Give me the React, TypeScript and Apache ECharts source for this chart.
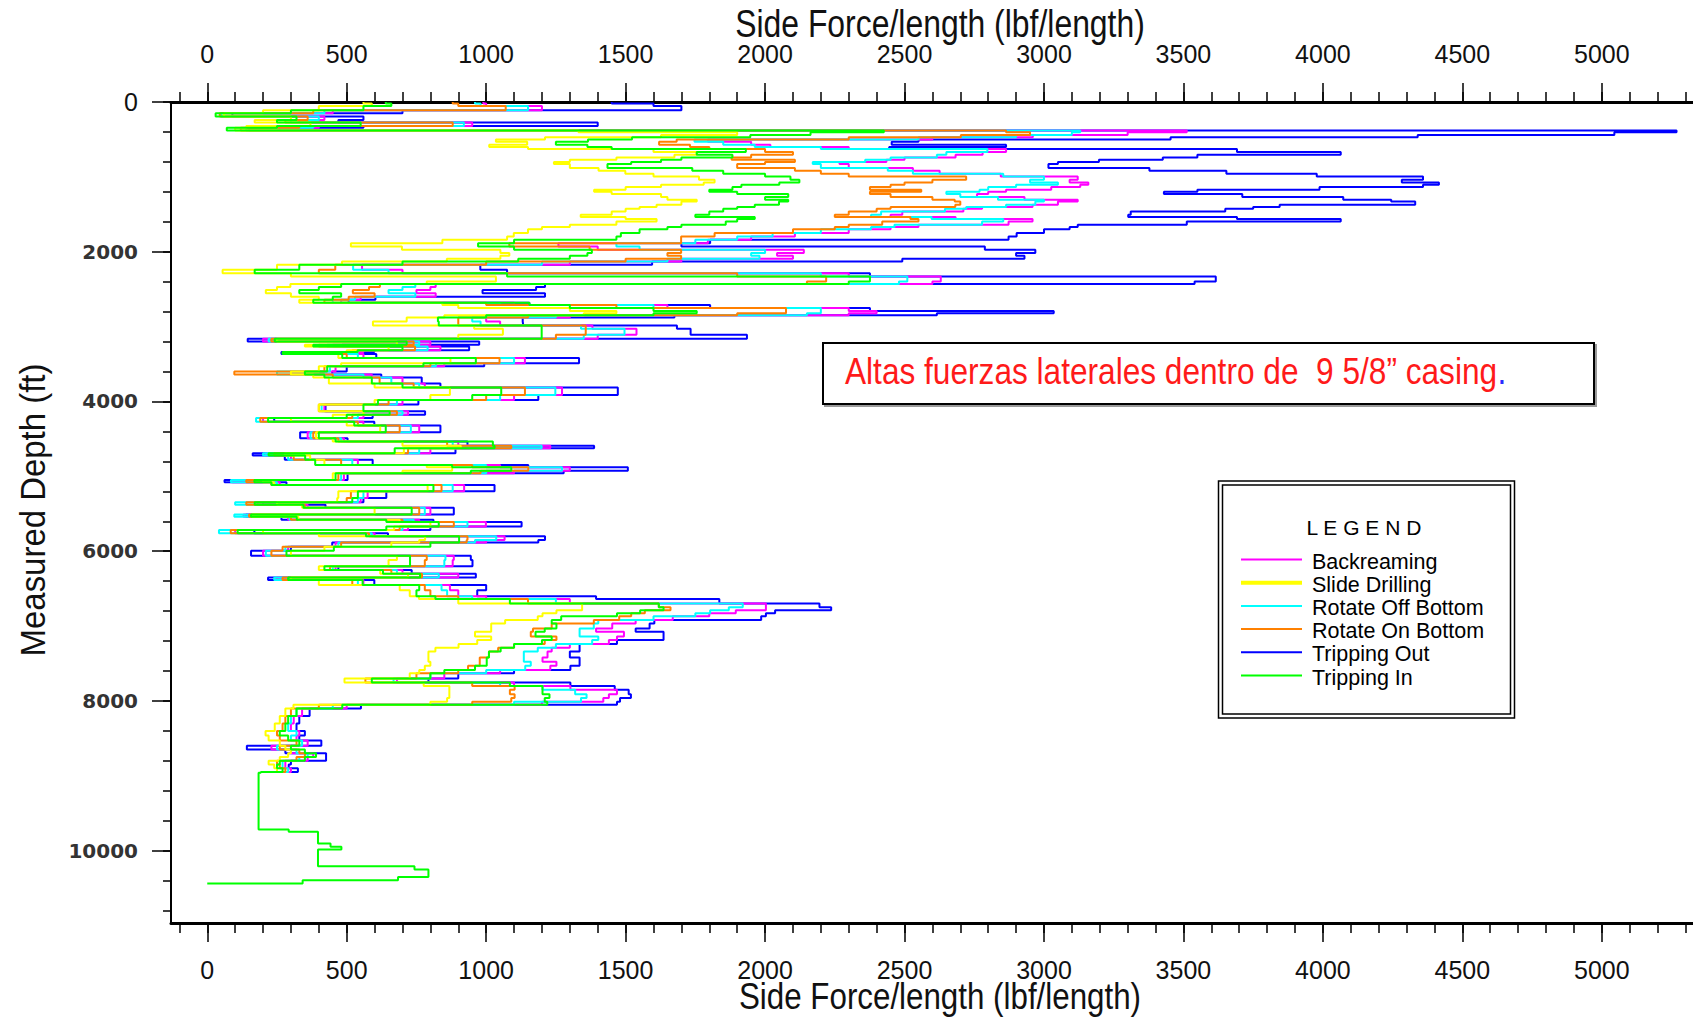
import React, { useEffect, useRef } from "react";
import * as echarts from "echarts";

// ---------- axis ranges & ticks ----------
const XMIN = -130;
const XMAX = 5327;
const YMAX = 10966;
const xMajorTicks = [0, 500, 1000, 1500, 2000, 2500, 3000, 3500, 4000, 4500, 5000];
const xMinorTicks = Array.from({ length: 55 }, (_, i) => -100 + i * 100);
const yMajorTicks = [0, 2000, 4000, 6000, 8000, 10000];
const yMinorTicks = Array.from({ length: 28 }, (_, i) => i * 400);

const xTitle = "Side Force/length (lbf/length)";
const yTitle = "Measured Depth (ft)";
const noteText = "Altas fuerzas laterales dentro de  9 5/8\u201d casing";

// ---------- data: measured depth stations (ft) ----------
const depthFt = [
  0, 20, 55, 110, 150, 195, 240, 275, 320, 345,
  380, 405, 440, 470, 500, 530, 570, 600, 628, 668,
  704, 740, 771, 800, 829, 882, 918, 958, 994, 1038,
  1074, 1105, 1136, 1172, 1200, 1230, 1270, 1306, 1328, 1372,
  1404, 1426, 1462, 1506, 1537, 1564, 1595, 1640, 1670, 1700,
  1751, 1796, 1840, 1885, 1929, 1974, 2018, 2054, 2094, 2130,
  2175, 2241, 2286, 2330, 2397, 2430, 2470, 2510, 2553, 2600,
  2642, 2680, 2710, 2750, 2790, 2820, 2850, 2880, 2932, 2985,
  3030, 3110, 3163, 3200, 3244, 3265, 3315, 3340, 3365, 3420,
  3490, 3530, 3600, 3640, 3680, 3760, 3815, 3912, 3980, 4040,
  4130, 4179, 4220, 4270, 4320, 4410, 4490, 4536, 4590, 4625,
  4690, 4720, 4780, 4847, 4880, 4925, 4960, 5050, 5080, 5115,
  5200, 5290, 5345, 5380, 5420, 5510, 5540, 5580, 5610, 5670,
  5716, 5761, 5800, 5850, 5885, 5940, 5995, 6060, 6117, 6200,
  6251, 6300, 6350, 6385, 6450, 6520, 6600, 6640, 6700, 6750,
  6790, 6830, 6870, 6920, 6964, 7031, 7075, 7140, 7187, 7240,
  7290, 7340, 7420, 7476, 7530, 7587, 7630, 7700, 7755, 7800,
  7850, 7910, 7960, 8011, 8050, 8100, 8200, 8300, 8400, 8460,
  8530, 8600, 8650, 8700, 8750, 8800, 8850, 8900, 8950,
];

// side force / length (lbf/length) per series at the stations above
const trippingOut = [
  1450, 1600, 1700, 700, 90, 560, 470, 1400, 560, 260,
  5268, 5045, 4340, 3454, 2550, 2454, 2864, 2445, 3692, 4064,
  3550, 3426, 3197, 3050, 3016, 3378, 3654, 3978, 4359, 4283,
  4416, 4359, 3988, 3550, 3430, 3711, 4073, 4245, 4331, 3845,
  3750, 3650, 3311, 3302, 3692, 4064, 3512, 3121, 3092, 3000,
  2902, 2873, 1803, 1700, 2788, 2969, 2900, 2930, 2492, 1595,
  979, 1075, 2376, 3616, 3540, 1211, 1179, 987, 1211, 603,
  507, 1155, 1803, 2376, 3035, 2616, 1675, 1131, 1133, 1684,
  1733, 1935, 145, 975, 484, 939, 599, 266, 606, 1333,
  993, 500, 448, 624, 769, 836, 1472, 1187, 757, 424,
  781, 593, 240, 599, 836, 333, 503, 933, 1387, 890,
  163, 278, 593, 1151, 1508, 1278, 503, 62, 284, 1030,
  642, 560, 200, 424, 884, 139, 266, 811, 1127, 800,
  169, 648, 1211, 1187, 448, 300, 157, 945, 951, 470,
  733, 963, 218, 599, 1000, 968, 1394, 1836, 2195, 2237,
  2036, 2003, 1986, 1603, 1586, 1536, 1636, 1636, 1469, 1335,
  1335, 1300, 1335, 1335, 1302, 1100, 900, 793, 1302, 1461,
  1511, 1519, 1480, 1469, 551, 367, 330, 320, 350, 330,
  409, 142, 280, 426, 426, 300, 292, 325, 300,
];

const backreaming = [
  990, 1000, 1200, 450, 60, 420, 330, 950, 400, 150,
  3512, 3300, 2960, 2600, 1795, 1950, 2019, 2300, 2864, 2780,
  2683, 2500, 2435, 2267, 2300, 2530, 2626, 2845, 3121, 3092,
  3159, 3130, 3026, 2864, 2800, 2760, 2930, 3121, 3050, 2959,
  2778, 2711, 2492, 2450, 2683, 2959, 2873, 2550, 2450, 2300,
  2107, 1950, 1795, 1259, 1400, 2139, 2043, 2100, 1700, 1300,
  555, 700, 2300, 2630, 2600, 819, 800, 750, 819, 550,
  480, 1100, 1650, 2300, 2400, 2300, 1300, 1000, 1050, 1381,
  1539, 1400, 200, 800, 450, 836, 560, 300, 560, 1139,
  850, 460, 300, 590, 700, 780, 1272, 1100, 700, 420,
  720, 560, 200, 560, 760, 360, 490, 900, 1230, 800,
  210, 300, 540, 1050, 1300, 1100, 490, 90, 260, 921,
  575, 550, 180, 360, 800, 130, 290, 760, 999, 720,
  100, 600, 1066, 1000, 460, 290, 200, 884, 880, 460,
  700, 900, 250, 560, 870, 900, 1000, 1300, 2003, 2003,
  1895, 1800, 1669, 1536, 1452, 1394, 1494, 1469, 1440, 1300,
  1235, 1220, 1202, 1252, 1230, 1050, 850, 680, 1100, 1302,
  1469, 1440, 1420, 1200, 500, 340, 310, 300, 330, 320,
  360, 230, 300, 380, 360, 280, 280, 300, 280,
];

const rotateOffBottom = [
  960, 980, 1150, 420, 50, 400, 300, 920, 380, 140,
  3130, 3100, 2900, 2550, 1747, 1850, 1963, 2200, 2797, 2650,
  2616, 2450, 2359, 2171, 2200, 2440, 2530, 2854, 3000, 2950,
  3050, 2900, 2800, 2769, 2650, 2700, 2835, 3000, 2969, 2864,
  2721, 2645, 2416, 2380, 2597, 2854, 2778, 2464, 2380, 2200,
  2027, 1900, 1750, 1467, 1550, 2000, 1950, 1980, 1650, 1200,
  523, 650, 2200, 2510, 2480, 746, 700, 650, 746, 530,
  450, 1050, 1600, 2200, 2200, 2150, 1250, 950, 980, 1340,
  1496, 1350, 220, 760, 430, 790, 540, 290, 540, 1100,
  820, 440, 250, 560, 660, 760, 1248, 1050, 680, 410,
  700, 540, 175, 540, 730, 370, 480, 880, 1199, 760,
  200, 290, 520, 1000, 1272, 1000, 480, 85, 250, 880,
  560, 540, 100, 345, 780, 97, 295, 740, 933, 700,
  42, 590, 1036, 960, 470, 280, 210, 854, 850, 450,
  680, 830, 240, 540, 840, 860, 950, 1250, 1920, 1870,
  1803, 1750, 1600, 1402, 1386, 1335, 1335, 1402, 1380, 1250,
  1185, 1135, 1135, 1160, 1140, 1000, 800, 668, 1050, 1202,
  1319, 1360, 1340, 1100, 450, 320, 300, 290, 320, 300,
  340, 250, 320, 360, 330, 270, 270, 290, 270,
];

const rotateOnBottom = [
  880, 900, 1070, 380, 45, 360, 280, 880, 330, 120,
  2864, 2950, 2702, 2300, 1683, 1620, 1731, 1800, 2000, 2100,
  1950, 1880, 2107, 2000, 1900, 2107, 2200, 2300, 2721, 2600,
  2500, 2450, 2376, 2560, 2376, 2450, 2600, 2680, 2700, 2682,
  2450, 2400, 2300, 2250, 2521, 2550, 2420, 2300, 2250, 2100,
  1819, 1699, 1699, 1083, 1371, 1699, 1650, 1699, 1500, 1000,
  459, 400, 1900, 2219, 2150, 619, 580, 522, 600, 507,
  420, 1000, 1467, 2075, 2075, 1900, 1150, 900, 900, 1357,
  1357, 1250, 230, 740, 400, 745, 520, 280, 500, 1048,
  800, 420, 97, 450, 618, 740, 1139, 1000, 650, 400,
  680, 520, 190, 540, 690, 380, 470, 860, 1090, 720,
  240, 310, 480, 950, 1151, 980, 470, 140, 230, 840,
  515, 500, 140, 350, 760, 150, 300, 700, 884, 690,
  84, 580, 933, 930, 480, 270, 230, 787, 780, 440,
  660, 770, 270, 520, 780, 800, 900, 1150, 1619, 1661,
  1569, 1520, 1477, 1386, 1235, 1168, 1160, 1252, 1210, 1100,
  1043, 1010, 977, 977, 935, 900, 750, 567, 950, 1102,
  1085, 1102, 1090, 950, 400, 300, 280, 270, 250, 260,
  320, 260, 330, 350, 320, 250, 260, 280, 250,
];

const trippingIn = [
  640, 660, 560, 300, 30, 320, 250, 550, 250, 70,
  2426, 2163, 1947, 1523, 1365, 1250, 1363, 1450, 1931, 1755,
  1883, 1700, 1627, 1520, 1435, 1739, 1850, 2000, 2091, 2123,
  2051, 1915, 1883, 1800, 1900, 2083, 2000, 2083, 2050, 1963,
  1900, 1850, 1800, 1750, 1963, 1900, 1859, 1700, 1650, 1550,
  1483, 1467, 1100, 971, 1100, 1379, 1363, 1300, 1115, 700,
  330, 170, 1075, 2376, 2300, 480, 400, 330, 480, 450,
  380, 1155, 1300, 1600, 1755, 1600, 1000, 827, 830, 1199,
  1199, 1199, 242, 715, 380, 700, 539, 270, 484, 963,
  775, 430, 350, 420, 590, 700, 1054, 950, 612, 560,
  654, 500, 218, 527, 640, 400, 460, 1024, 1030, 672,
  220, 351, 387, 878, 1090, 945, 460, 169, 230, 811,
  540, 520, 170, 345, 733, 157, 321, 642, 830, 642,
  109, 569, 903, 903, 800, 454, 284, 727, 727, 420,
  630, 763, 290, 557, 760, 750, 818, 1085, 1619, 1636,
  1552, 1469, 1269, 1235, 1252, 1210, 1177, 1235, 1200, 1100,
  1052, 1010, 1002, 1002, 960, 850, 800, 590, 1085, 1202,
  1202, 1227, 1210, 1219, 484, 320, 290, 280, 260, 290,
  330, 300, 350, 390, 350, 260, 250, 270, 192,
];

const slideDrilling = [
  560, 590, 400, 200, 60, 300, 170, 370, 140, 100,
  1331, 1900, 1627, 1211, 1035, 1147, 1011, 1150, 1600, 1755,
  1675, 1467, 1300, 1243, 1300, 1403, 1499, 1600, 1763, 1819,
  1780, 1627, 1500, 1387, 1450, 1627, 1650, 1755, 1700, 1611,
  1550, 1500, 1450, 1339, 1500, 1611, 1467, 1300, 1200, 1150,
  1099, 1075, 843, 515, 698, 1051, 1083, 1051, 859, 483,
  250, 55, 300, 1035, 787, 298, 250, 210, 300, 400,
  330, 843, 900, 1300, 1467, 1350, 850, 715, 594, 957,
  1060, 900, 250, 680, 350, 650, 500, 300, 470, 872,
  480, 400, 300, 380, 436, 600, 870, 800, 600, 400,
  560, 450, 300, 500, 620, 390, 450, 700, 909, 705,
  278, 369, 420, 787, 878, 700, 450, 200, 240, 790,
  470, 466, 250, 340, 600, 160, 327, 690, 800, 670,
  200, 400, 781, 760, 660, 420, 300, 680, 650, 400,
  620, 720, 300, 400, 690, 726, 759, 900, 1344, 1344,
  1252, 1202, 1185, 1068, 1018, 1018, 960, 1018, 968, 901,
  818, 793, 793, 800, 780, 760, 726, 492, 776, 868,
  868, 868, 860, 800, 309, 280, 260, 242, 209, 220,
  260, 280, 300, 290, 260, 220, 240, 250, 230,
];

// Tripping In continues alone below the other operations
const trippingInDeepDepth = [8960, 9717, 9748, 9904, 9949, 9984, 10207, 10252, 10350, 10394, 10439];
const trippingInDeepForce = [184, 292, 397, 442, 481, 397, 743, 793, 684, 342, 0];

// legend order as in the reference
const legendNames = ["Backreaming", "Slide Drilling", "Rotate Off Bottom", "Rotate On Bottom", "Tripping Out", "Tripping In"];
const legendColors = ["#ff00ff", "#ffff00", "#00ffff", "#ff8000", "#0000ff", "#00ff00"];
const legendLineWidths = [2, 4, 2, 2, 2, 2];

const SANS = "'Liberation Sans', Arial, sans-serif";

function toPairs(forces: number[]) {
  return forces.map((f, i) => [f, depthFt[i]]);
}

export default function App() {
  const ref = useRef<HTMLDivElement>(null);

  useEffect(() => {
    if (!ref.current) return;
    const chart = echarts.init(ref.current, null, { renderer: "svg" });

    const colorOf = (name: string) => legendColors[legendNames.indexOf(name)];

    const drawOrder: [string, number[][]][] = [
      ["Tripping Out", toPairs(trippingOut)],
      ["Backreaming", toPairs(backreaming)],
      ["Rotate Off Bottom", toPairs(rotateOffBottom)],
      ["Rotate On Bottom", toPairs(rotateOnBottom)],
      ["Slide Drilling", toPairs(slideDrilling)],
      [
        "Tripping In",
        toPairs(trippingIn).concat(trippingInDeepDepth.map((d, i) => [trippingInDeepForce[i], d])),
      ],
    ];

    const series = drawOrder.map(([name, data]) => ({
      name,
      type: "line",
      xAxisIndex: 0,
      yAxisIndex: 0,
      step: "start",
      symbol: "none",
      showSymbol: false,
      clip: true,
      data,
      lineStyle: { color: colorOf(name), width: 2 },
      itemStyle: { color: colorOf(name) },
      emphasis: { disabled: true },
    }));

    const axisLineStyle = (w: number) => ({ show: true, onZero: false, lineStyle: { color: "#000", width: w } });

    const xMajor = (position: "top" | "bottom", margin: number) => ({
      type: "value",
      position,
      min: XMIN,
      max: XMAX,
      minInterval: 500,
      maxInterval: 500,
      splitLine: { show: false },
      axisLine: axisLineStyle(3),
      axisTick: { show: true, length: 19, customValues: xMajorTicks, lineStyle: { color: "#000", width: 1.5 } },
      axisLabel: {
        show: true,
        customValues: xMajorTicks,
        margin,
        fontFamily: SANS,
        fontSize: 25,
        color: "#111",
        formatter: (v: number) => (Math.round(v) % 500 === 0 ? String(Math.round(v)) : ""),
      },
    });

    const xMinor = (position: "top" | "bottom") => ({
      type: "value",
      position,
      min: XMIN,
      max: XMAX,
      minInterval: 100,
      maxInterval: 100,
      splitLine: { show: false },
      axisLine: { show: false, onZero: false },
      axisTick: { show: true, length: 10, customValues: xMinorTicks, lineStyle: { color: "#000", width: 1.5 } },
      axisLabel: { show: false },
    });

    const titleText = (x: number, y: number, text: string, size: number, sx: number, rot = 0) => ({
      type: "text",
      x,
      y,
      rotation: rot,
      scaleX: sx,
      z: 60,
      style: {
        x: 0,
        y: 0,
        text,
        textAlign: "center",
        verticalAlign: "middle",
        fontFamily: SANS,
        fontSize: size,
        fill: "#111",
      },
    });

    const option = {
      animation: false,
      backgroundColor: "#ffffff",
      grid: { left: 171, right: 0, top: 102, bottom: 98, containLabel: false, outerBoundsMode: "none" },
      xAxis: [xMajor("bottom", 34), xMajor("top", 36), xMinor("bottom"), xMinor("top")],
      yAxis: [
        {
          type: "value",
          position: "left",
          inverse: true,
          min: 0,
          max: YMAX,
          interval: 2000,
          splitLine: { show: false },
          axisLine: axisLineStyle(2),
          axisTick: { show: true, length: 19, customValues: yMajorTicks, lineStyle: { color: "#000", width: 1.5 } },
          axisLabel: {
            show: true,
            customValues: yMajorTicks,
            margin: 33,
            formatter: (v: number) => (v === 0 ? "{n|0}" : v % 2000 === 0 ? `{b|${v}}` : ""),
            rich: {
              n: { fontFamily: SANS, fontSize: 25, color: "#111" },
              b: { fontFamily: "'DejaVu Sans', sans-serif", fontWeight: "bold", fontSize: 20, color: "#333" },
            },
          },
        },
        {
          type: "value",
          position: "left",
          inverse: true,
          min: 0,
          max: YMAX,
          interval: 400,
          splitLine: { show: false },
          axisLine: { show: false, onZero: false },
          axisTick: { show: true, length: 8, customValues: yMinorTicks, lineStyle: { color: "#000", width: 1.5 } },
          axisLabel: { show: false },
        },
      ],
      series,
      graphic: [
        // axis titles
        titleText(940, 23.5, xTitle, 38, 0.84),
        titleText(940, 996, xTitle, 36, 0.87),
        titleText(32, 510, yTitle, 36, 0.915, Math.PI / 2),
        // annotation box
        {
          type: "rect",
          shape: { x: 825, y: 345, width: 771, height: 61 },
          style: { fill: "none", stroke: "#9a9a9a", lineWidth: 2 },
          z: 50,
        },
        {
          type: "rect",
          shape: { x: 823, y: 343, width: 771, height: 61 },
          style: { fill: "#ffffff", stroke: "#000", lineWidth: 2 },
          z: 51,
        },
        {
          type: "text",
          z: 52,
          x: 845,
          y: 371,
          scaleX: 0.855,
          style: {
            x: 0,
            y: 0,
            text: `{r|${noteText}}{b|.}`,
            verticalAlign: "middle",
            textAlign: "left",
            rich: {
              r: { fontFamily: SANS, fontSize: 37, fill: "#ff1a1a" },
              b: { fontFamily: SANS, fontSize: 37, fill: "#2a2aff" },
            },
          },
        },
        // legend box (double border)
        {
          type: "rect",
          z: 50,
          shape: { x: 1218.5, y: 481, width: 296, height: 237 },
          style: { fill: "#ffffff", stroke: "#000", lineWidth: 1.5 },
        },
        {
          type: "rect",
          z: 51,
          shape: { x: 1222.5, y: 485, width: 288, height: 229 },
          style: { fill: "none", stroke: "#000", lineWidth: 1.5 },
        },
        {
          type: "text",
          z: 52,
          style: {
            x: 1364,
            y: 527,
            text: "L E G E N D",
            textAlign: "center",
            verticalAlign: "middle",
            fontFamily: SANS,
            fontSize: 21,
            fill: "#000",
          },
        },
        ...legendNames.flatMap((name, i) => {
          const y = 559.5 + i * 23.2;
          return [
            {
              type: "line",
              z: 52,
              shape: { x1: 1241, y1: y, x2: 1302, y2: y },
              style: { stroke: legendColors[i], lineWidth: legendLineWidths[i] },
            },
            {
              type: "text",
              z: 52,
              style: {
                x: 1312,
                y: y + 2,
                text: name,
                textAlign: "left",
                verticalAlign: "middle",
                fontFamily: SANS,
                fontSize: 21.5,
                fill: "#000",
              },
            },
          ];
        }),
      ],
    };

    chart.setOption(option as any);
    return () => chart.dispose();
  }, []);

  return (
    <div
      ref={ref}
      style={{ position: "fixed", left: 0, top: 0, width: 1693, height: 1021, background: "#fff" }}
    />
  );
}
